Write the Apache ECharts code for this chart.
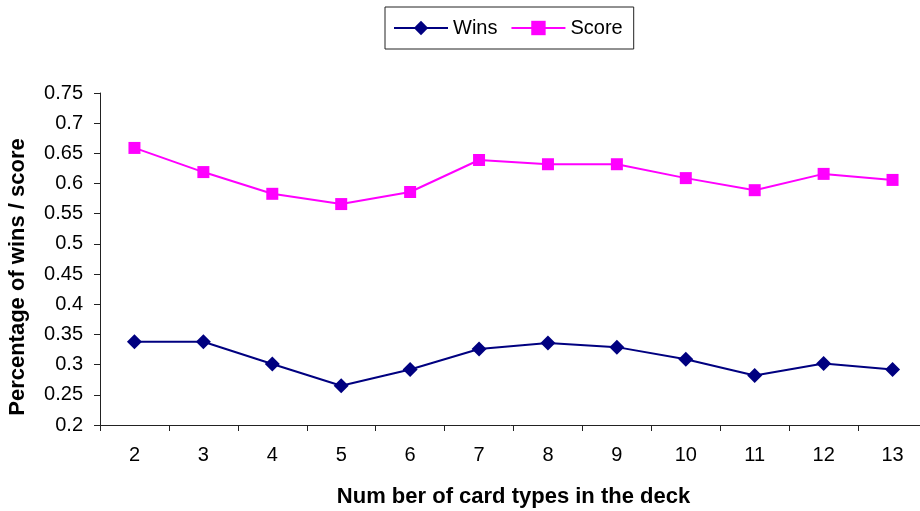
<!DOCTYPE html>
<html>
<head>
<meta charset="utf-8">
<script src="https://cdn.jsdelivr.net/npm/echarts@6/dist/echarts.min.js"></script>
<style>
  html, body { margin: 0; padding: 0; background: #fff; }
  #chart { width: 920px; height: 511px; }
</style>
</head>
<body>
<div id="chart"></div>
<script>
// Number of distinct card types in the deck
const deckSizes = ['2', '3', '4', '5', '6', '7', '8', '9', '10', '11', '12', '13'];
// Share of games won
const winsValues = [0.338, 0.338, 0.301, 0.265, 0.292, 0.326, 0.336, 0.329, 0.309, 0.282, 0.302, 0.292];
// Average score share
const scoreValues = [0.659, 0.619, 0.583, 0.566, 0.586, 0.639, 0.632, 0.632, 0.609, 0.589, 0.616, 0.606];

const chart = echarts.init(document.getElementById('chart'), null, { renderer: 'canvas' });

const axisColor = '#222';
const textFont = 'Arial, "Liberation Sans", sans-serif';

chart.setOption({
  animation: false,
  backgroundColor: '#fff',
  legend: {
    top: 7,
    left: 385,
    padding: [11, 11, 11, 8],
    borderColor: '#222',
    borderWidth: 1,
    itemGap: 13,
    itemWidth: 54,
    itemHeight: 18,
    textStyle: { fontSize: 20, color: '#000', fontFamily: textFont },
    data: ['Wins', 'Score']
  },
  grid: { left: 100, top: 93, right: -7, bottom: 86, containLabel: false, outerBoundsMode: 'none' },
  xAxis: {
    type: 'category',
    data: deckSizes,
    boundaryGap: true,
    name: 'Num ber of card types in the deck',
    nameLocation: 'middle',
    nameGap: 61,
    nameTextStyle: { fontSize: 22, fontWeight: 'bold', color: '#000', fontFamily: textFont },
    axisLine: { lineStyle: { color: axisColor, width: 1 } },
    axisTick: { show: true, length: 6, alignWithLabel: false, lineStyle: { color: axisColor } },
    axisLabel: { fontSize: 20, color: '#000', margin: 20, fontFamily: textFont },
    splitLine: { show: false }
  },
  yAxis: {
    type: 'value',
    min: 0.2,
    max: 0.75,
    interval: 0.05,
    name: 'Percentage of wins / score',
    nameLocation: 'middle',
    nameGap: 71,
    nameRotate: 90,
    nameTextStyle: { fontSize: 22, fontWeight: 'bold', color: '#000', fontFamily: textFont, padding: [0, 36, 0, 0] },
    axisLine: { show: true, lineStyle: { color: axisColor, width: 1 } },
    axisTick: { show: true, length: 6, lineStyle: { color: axisColor } },
    axisLabel: {
      fontSize: 20, color: '#000', margin: 17, fontFamily: textFont,
      formatter: function (v) { return String(parseFloat(v.toFixed(2))); }
    },
    splitLine: { show: false }
  },
  series: [
    {
      name: 'Wins',
      type: 'line',
      data: winsValues,
      symbol: 'diamond',
      symbolSize: 15,
      itemStyle: { color: '#000080' },
      lineStyle: { color: '#000080', width: 2 }
    },
    {
      name: 'Score',
      type: 'line',
      data: scoreValues,
      symbol: 'rect',
      symbolSize: 12,
      itemStyle: { color: '#ff00ff' },
      lineStyle: { color: '#ff00ff', width: 2 }
    }
  ]
});
</script>
</body>
</html>
